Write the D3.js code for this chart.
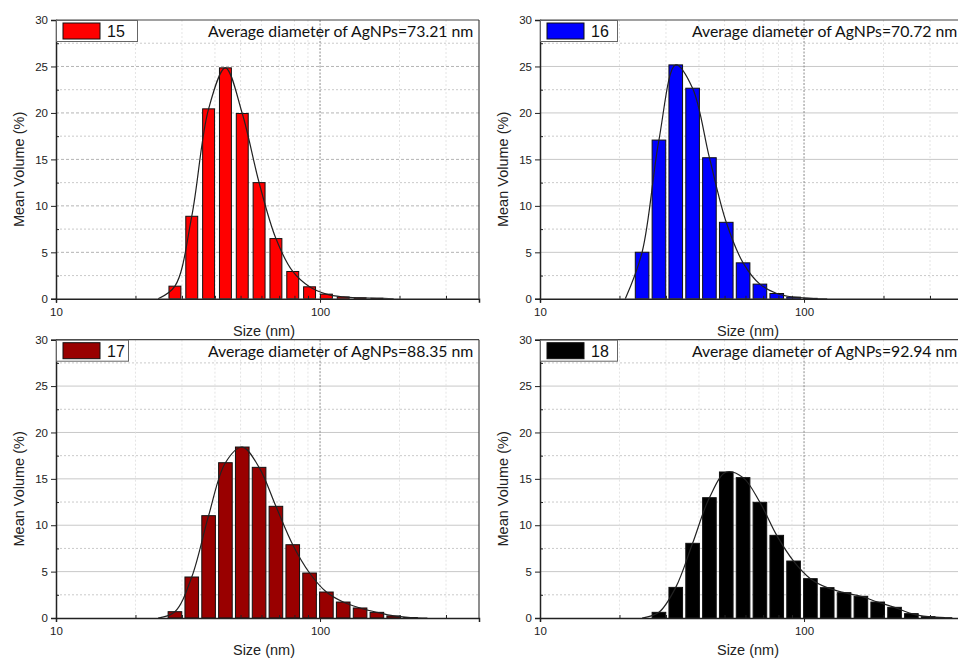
<!DOCTYPE html>
<html>
<head>
<meta charset="utf-8">
<script src="https://cdn.jsdelivr.net/npm/d3@7"></script>
<style>
  body { margin: 0; background: #fff; }
  svg { display: block; }
</style>
</head>
<body>
<div id="chart"></div>
<script>
// size classes (nm), same bins for all four samples
var sizeBins = [21.04, 24.36, 28.21, 32.67, 37.84, 43.82, 50.75, 58.77, 68.06, 78.82,
                91.28, 105.7, 122.4, 141.8, 164.2, 190.1, 220.2, 255.0, 295.3, 342.0];

// mean volume (%) per bin
var volume15 = [0, 0, 1.36, 8.88, 20.44, 24.85, 19.94, 12.5, 6.48, 2.94,
                1.29, 0.5, 0.2, 0.1, 0.06, 0, 0, 0, 0, 0];
var volume16 = [0, 5.01, 17.08, 25.17, 22.66, 15.18, 8.23, 3.87, 1.58, 0.57,
                0.18, 0.05, 0, 0, 0, 0, 0, 0, 0, 0];
var volume17 = [0, 0, 0.68, 4.42, 11.03, 16.74, 18.43, 16.24, 12.04, 7.9,
                4.85, 2.8, 1.72, 1.08, 0.61, 0.22, 0.05, 0, 0, 0];
var volume18 = [0, 0, 0.61, 3.3, 8.05, 12.97, 15.74, 15.13, 12.47, 8.91,
                6.14, 4.24, 3.27, 2.73, 2.34, 1.72, 1.15, 0.47, 0.14, 0.03];

var sampleNames = ["15", "16", "17", "18"];
var avgDiameters = ["73.21", "70.72", "88.35", "92.94"];
var sampleValues = [volume15, volume16, volume17, volume18];

var yTicks = [0, 5, 10, 15, 20, 25, 30];
var yMinorTicks = [2.5, 7.5, 12.5, 17.5, 22.5, 27.5];
var xTicks = [10, 100];
var xMinorTicks = [20, 30, 40, 50, 60, 70, 80, 90, 200, 300];

// layout of the four panels
var panels = [
  { left: 56,  top: 20,    bottom: 298.8, clipX: 0,   clipY: 0,   clipW: 481, clipH: 339, color: "#ff0000", barFrac: 0.71, legW: 81, solidGrid: false },
  { left: 540, top: 20,    bottom: 298.8, clipX: 483, clipY: 0,   clipW: 475, clipH: 339, color: "#0000ff", barFrac: 0.81, legW: 77, solidGrid: true },
  { left: 56,  top: 339.7, bottom: 618,   clipX: 0,   clipY: 331, clipW: 481, clipH: 327, color: "#990000", barFrac: 0.81, legW: 72, solidGrid: true },
  { left: 540, top: 339.7, bottom: 618,   clipX: 483, clipY: 331, clipW: 475, clipH: 327, color: "#000000", barFrac: 0.81, legW: 77, solidGrid: true }
];

var W = 958, H = 658;
var plotW = 423;
var logStep = Math.log10(sizeBins[1] / sizeBins[0]);

var svg = d3.select("#chart").append("svg")
  .attr("width", W).attr("height", H)
  .style("font-family", "'Liberation Sans', Arial, sans-serif");

svg.append("rect").attr("width", W).attr("height", H).attr("fill", "#fff");

var defs = svg.append("defs");

panels.forEach(function (p, i) {
  var values = sampleValues[i];
  var x = d3.scaleLog().domain([10, 400]).range([p.left, p.left + plotW]);
  var y = d3.scaleLinear().domain([0, 30]).range([p.bottom, p.top]);

  defs.append("clipPath").attr("id", "panel" + i)
    .append("rect").attr("x", p.clipX).attr("y", p.clipY).attr("width", p.clipW).attr("height", p.clipH);
  defs.append("clipPath").attr("id", "plot" + i)
    .append("rect").attr("x", p.left).attr("y", p.top).attr("width", plotW).attr("height", p.bottom - p.top);

  var g = svg.append("g").attr("clip-path", "url(#panel" + i + ")");
  var plot = g.append("g").attr("clip-path", "url(#plot" + i + ")");

  // horizontal grid
  plot.selectAll(".hmajor").data(yTicks.slice(1, -1)).enter().append("line")
    .attr("x1", p.left).attr("x2", p.left + plotW)
    .attr("y1", function (d) { return y(d); }).attr("y2", function (d) { return y(d); })
    .attr("stroke", p.solidGrid ? "#c8c8c8" : "#b4b4b4")
    .attr("stroke-width", 1)
    .attr("stroke-dasharray", p.solidGrid ? null : "3,2");
  plot.selectAll(".hminor").data(yMinorTicks).enter().append("line")
    .attr("x1", p.left).attr("x2", p.left + plotW)
    .attr("y1", function (d) { return y(d); }).attr("y2", function (d) { return y(d); })
    .attr("stroke", "#bdbdbd").attr("stroke-width", 0.8).attr("stroke-dasharray", "2,2");

  // vertical grid
  plot.selectAll(".vminor").data(xMinorTicks).enter().append("line")
    .attr("x1", function (d) { return x(d); }).attr("x2", function (d) { return x(d); })
    .attr("y1", p.top).attr("y2", p.bottom)
    .attr("stroke", "#dddddd").attr("stroke-width", 0.8).attr("stroke-dasharray", "2,2");
  plot.append("line")
    .attr("x1", x(100)).attr("x2", x(100)).attr("y1", p.top).attr("y2", p.bottom)
    .attr("stroke", "#8a8a8a").attr("stroke-width", 1).attr("stroke-dasharray", "2,1.5");

  // bars
  var rows = sizeBins.map(function (s, k) { return { size: s, v: values[k] }; });
  plot.selectAll(".bar").data(rows.filter(function (d) { return d.v > 0; })).enter().append("rect")
    .attr("x", function (d) { return x(d.size * Math.pow(10, -logStep * p.barFrac / 2)); })
    .attr("width", function (d) {
      return x(d.size * Math.pow(10, logStep * p.barFrac / 2)) - x(d.size * Math.pow(10, -logStep * p.barFrac / 2));
    })
    .attr("y", function (d) { return y(d.v); })
    .attr("height", function (d) { return y(0) - y(d.v); })
    .attr("fill", p.color).attr("stroke", "#111").attr("stroke-width", 1);

  // smooth line through the distribution
  var first = d3.min(rows, function (d, k) { return d.v > 0 ? k : Infinity; });
  var last = d3.max(rows, function (d, k) { return d.v > 0 ? k : -1; });
  var curveRows = rows.slice(Math.max(0, first - 1), Math.min(rows.length, last + 2));
  var line = d3.line()
    .x(function (d) { return x(d.size); })
    .y(function (d) { return Math.min(y(0), y(d.v)); })
    .curve(d3.curveCatmullRom.alpha(0.5));
  plot.append("path").datum(curveRows).attr("d", line)
    .attr("fill", "none").attr("stroke", "#222").attr("stroke-width", 1.2);

  // frame
  g.append("line").attr("x1", p.left).attr("x2", p.left + plotW).attr("y1", p.top).attr("y2", p.top)
    .attr("stroke", "#444").attr("stroke-width", 1.2);
  g.append("line").attr("x1", p.left + plotW).attr("x2", p.left + plotW).attr("y1", p.top).attr("y2", p.bottom)
    .attr("stroke", "#444").attr("stroke-width", 1.2);

  // axes
  var yAxis = d3.axisLeft(y).tickValues(yTicks).tickSize(5).tickPadding(3).tickFormat(d3.format("d"));
  var ya = g.append("g").attr("transform", "translate(" + p.left + ",0)").call(yAxis);
  var yMinor = d3.axisLeft(y).tickValues(yMinorTicks).tickSize(-3).tickFormat("");
  var ym = g.append("g").attr("transform", "translate(" + p.left + ",0)").call(yMinor);
  ym.select(".domain").remove();

  var xAxis = d3.axisBottom(x).tickValues(xTicks).tickSize(4).tickPadding(5).tickFormat(d3.format("d"));
  var xa = g.append("g").attr("transform", "translate(0," + p.bottom + ")").call(xAxis);
  var xMinor = d3.axisBottom(x).tickValues(xMinorTicks).tickSize(-3).tickFormat("");
  var xm = g.append("g").attr("transform", "translate(0," + p.bottom + ")").call(xMinor);
  xm.select(".domain").remove();

  [ya, xa, ym, xm].forEach(function (a) {
    a.selectAll(".domain").attr("stroke", "#222").attr("stroke-width", 1.5);
    a.selectAll(".tick line").attr("stroke", "#222").attr("stroke-width", 1);
    a.selectAll(".tick text").attr("fill", "#222").style("font-size", "11.5px")
      .style("font-family", "'Liberation Sans', Arial, sans-serif");
  });

  // axis titles
  g.append("text")
    .attr("transform", "translate(" + (p.left - 37) + "," + ((p.top + p.bottom) / 2 + 10) + ") rotate(-90)")
    .attr("text-anchor", "middle").attr("dominant-baseline", "central")
    .attr("fill", "#222").style("font-size", "14.5px").text("Mean Volume (%)");
  g.append("text")
    .attr("x", p.left + 208).attr("y", p.bottom + 37)
    .attr("text-anchor", "middle").attr("fill", "#222").style("font-size", "14.5px").text("Size (nm)");

  // legend
  g.append("rect").attr("x", p.left + 0.5).attr("y", p.top + 0.5).attr("width", p.legW).attr("height", 21)
    .attr("fill", "#fff").attr("stroke", "#666").attr("stroke-width", 1);
  g.append("rect").attr("x", p.left + 7).attr("y", p.top + 3).attr("width", 37).attr("height", 16)
    .attr("fill", p.color).attr("stroke", "#111").attr("stroke-width", 1);
  g.append("text").attr("x", p.left + 51).attr("y", p.top + 17)
    .attr("fill", "#111").style("font-size", "16px").text(sampleNames[i]);

  // average diameter note
  g.append("text").attr("x", p.left + 152).attr("y", p.top + 17)
    .attr("fill", "#111").style("font-family", "Lato, 'Open Sans', sans-serif").style("font-size", "15.8px")
    .text("Average diameter of AgNPs=" + avgDiameters[i] + " nm");
});
</script>
</body>
</html>
